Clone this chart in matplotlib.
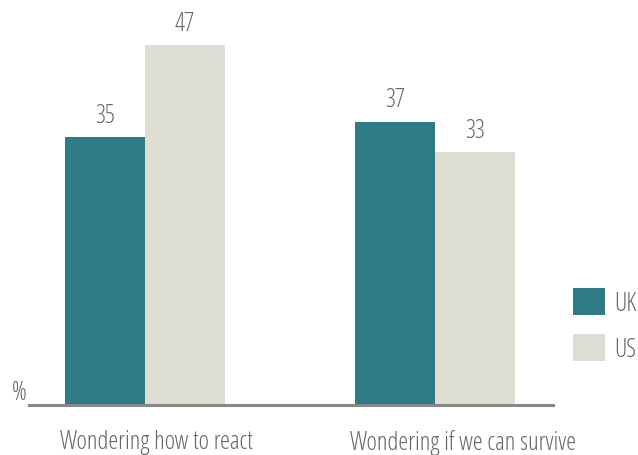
import matplotlib
matplotlib.use("Agg")
import matplotlib.pyplot as plt
from matplotlib.patches import Patch
from matplotlib.font_manager import FontProperties
import numpy as np

categories = ["Wondering how to react", "Wondering if we can survive"]
series_names = ["UK", "US"]
uk_values = [35, 37]
us_values = [47, 33]
colors = {"UK": "#2E7A87", "US": "#DDDDD2"}
text_color = "#666666"

font = FontProperties(family="Open Sans", stretch="condensed", weight="light", size=18)

fig = plt.figure(figsize=(6.38, 4.56), dpi=100)
ax = fig.add_axes([29 / 638, 50 / 456, 524 / 638, 406 / 456])

centers = np.array([0.0, 3.625])
width = 1.0
b1 = ax.bar(centers - width / 2, uk_values, width, color=colors["UK"], label="UK")
b2 = ax.bar(centers + width / 2, us_values, width, color=colors["US"], label="US")

for bars, vals in ((b1, uk_values), (b2, us_values)):
    for rect, v in zip(bars, vals):
        ax.annotate(str(v), (rect.get_x() + rect.get_width() / 2, v),
                    xytext=(0, 11), textcoords="offset points",
                    ha="center", va="baseline", fontproperties=font,
                    color=text_color)

ax.set_xlim(-1.45, 5.1)
ax.set_ylim(0, 53)
for s in ("top", "right", "left"):
    ax.spines[s].set_visible(False)
ax.spines["bottom"].set_color("#888888")
ax.spines["bottom"].set_linewidth(2.2)
ax.set_yticks([])
# category labels start just left of each group's first bar
ax.set_xticks(centers - width - 0.06)
ax.set_xticklabels(categories, fontproperties=font, color=text_color, ha="left")
ax.tick_params(axis="x", length=0, pad=17)

fig.text(12 / 638, 1 - 400 / 456, "%", fontproperties=font, color=text_color,
         ha="left", va="baseline")

handles = [Patch(facecolor=colors[n], edgecolor="none") for n in series_names]
fig.legend(handles, series_names, loc="center left",
           bbox_to_anchor=(573 / 638, 1 - 326 / 456), frameon=False,
           prop=font, labelcolor=text_color, handlelength=1.28,
           handleheight=1.28, handletextpad=0.36, labelspacing=0.72,
           borderpad=0, borderaxespad=0)

fig.savefig("out.png", dpi=100)
